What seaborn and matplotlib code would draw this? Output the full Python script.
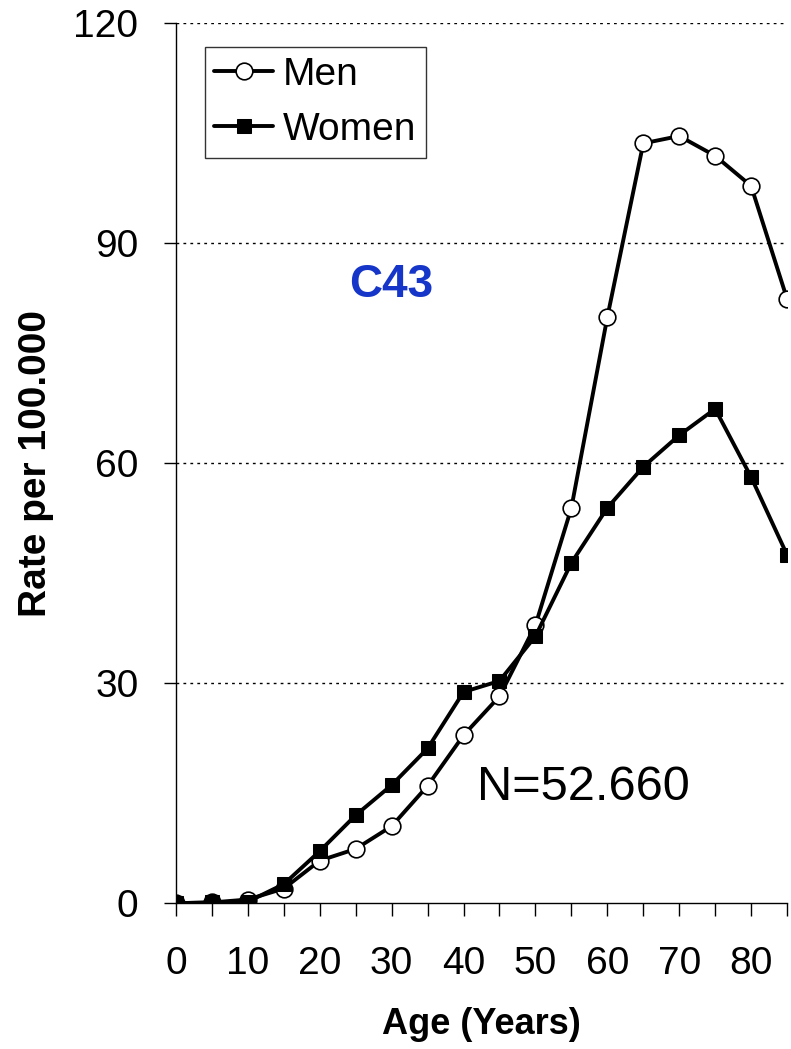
import matplotlib
matplotlib.use("Agg")
import matplotlib.pyplot as plt
import seaborn as sns
import pandas as pd
from matplotlib.ticker import MultipleLocator

ages = [0, 5, 10, 15, 20, 25, 30, 35, 40, 45, 50, 55, 60, 65, 70, 75, 80, 85]
men = [0.0, 0.1, 0.5, 2.0, 5.8, 7.4, 10.5, 16.0, 22.9, 28.2, 37.9, 53.9, 79.9, 103.6, 104.6, 101.9, 97.8, 82.4]
women = [0.0, 0.1, 0.2, 2.6, 7.1, 12.0, 16.1, 21.1, 28.8, 30.3, 36.4, 46.4, 53.9, 59.5, 63.8, 67.4, 58.1, 47.5]
y_ticks = [0, 30, 60, 90, 120]
x_ticks = [0, 10, 20, 30, 40, 50, 60, 70, 80]

sns.set_style("white")
plt.rcParams['font.family'] = ['Liberation Sans', 'DejaVu Sans']
plt.rcParams['text.color'] = 'black'
plt.rcParams['axes.labelcolor'] = 'black'
plt.rcParams['xtick.color'] = 'black'
plt.rcParams['ytick.color'] = 'black'

fig = plt.figure(figsize=(7.91, 10.49), dpi=100)
ax = fig.add_axes([0.2225, 0.139, 0.7725, 0.839])

df = pd.DataFrame({"Age": ages * 2, "Rate": men + women,
                   "Sex": ["Men"] * len(ages) + ["Women"] * len(ages)})

sns.lineplot(data=df[df.Sex == "Men"], x="Age", y="Rate", ax=ax, color="black",
             lw=2.8, marker="o", markersize=12, markerfacecolor="white",
             markeredgecolor="black", markeredgewidth=1.2, label="Men", zorder=3)
sns.lineplot(data=df[df.Sex == "Women"], x="Age", y="Rate", ax=ax, color="black",
             lw=2.8, marker="s", markersize=10, markerfacecolor="black",
             markeredgecolor="black", label="Women", zorder=4)

ax.set_xlim(0, 85)
ax.set_ylim(0, 120)
ax.set_yticks(y_ticks)
ax.set_xticks(x_ticks)
ax.xaxis.set_minor_locator(MultipleLocator(5))
ax.tick_params(axis='both', which='major', labelsize=28, direction='out', length=9,
               width=1, color='black', labelcolor='black', bottom=True, left=True)
ax.tick_params(axis='x', which='minor', direction='out', length=9, width=1, bottom=True)
ax.tick_params(axis='x', which='major', pad=22)
ax.tick_params(axis='y', which='major', pad=18)

for y in y_ticks[1:]:
    ax.axhline(y, color='black', lw=1, ls=(0, (2, 3)), zorder=1)

for s in ['top', 'right']:
    ax.spines[s].set_visible(False)
for s in ['left', 'bottom']:
    ax.spines[s].set_color('black')
    ax.spines[s].set_linewidth(1)

ax.set_xlabel("Age (Years)", fontsize=26, fontweight='bold', labelpad=18, color='black')
ax.set_ylabel("Rate per 100.000", fontsize=28, fontweight='bold', labelpad=14, color='black')

ax.text(29.9, 84.3, "C43", color='#1536c8', fontsize=33, fontweight='bold',
        ha='center', va='center')
ax.text(56.6, 15.8, "N=52.660", color='black', fontsize=35, ha='center', va='center')

leg = ax.legend(loc='upper left', bbox_to_anchor=(0.047, 0.973), fontsize=28,
                frameon=True, fancybox=False, edgecolor='black', handlelength=1.5,
                handletextpad=0.25, borderpad=0.25, labelspacing=0.5, borderaxespad=0)
leg.get_frame().set_linewidth(1)
for t in leg.get_texts():
    t.set_color('black')

fig.savefig("out.png", dpi=100)
